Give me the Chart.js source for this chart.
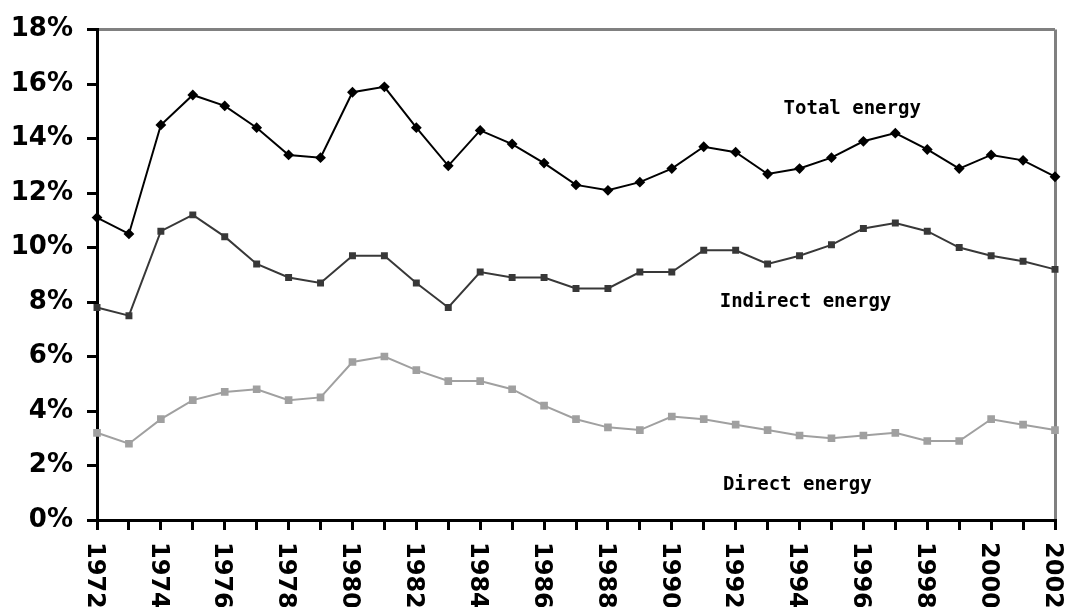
<!DOCTYPE html>
<html>
<head>
<meta charset="utf-8">
<script src="https://cdn.jsdelivr.net/npm/chart.js@4/dist/chart.umd.min.js"></script>
<style>
  html, body { margin: 0; padding: 0; background: #fff; }
  #wrap { width: 1068px; height: 607px; }
</style>
</head>
<body>
<div id="wrap"><canvas id="energyChart" width="1068" height="607"></canvas></div>
<script>
// years on the x axis
const years = [];
for (let y = 1972; y <= 2002; y++) years.push(String(y));

// values (%)
const totalEnergy = [11.1, 10.5, 14.5, 15.6, 15.2, 14.4, 13.4, 13.3, 15.7, 15.9,
  14.4, 13.0, 14.3, 13.8, 13.1, 12.3, 12.1, 12.4, 12.9, 13.7,
  13.5, 12.7, 12.9, 13.3, 13.9, 14.2, 13.6, 12.9, 13.4, 13.2, 12.6];
const indirectEnergy = [7.8, 7.5, 10.6, 11.2, 10.4, 9.4, 8.9, 8.7, 9.7, 9.7,
  8.7, 7.8, 9.1, 8.9, 8.9, 8.5, 8.5, 9.1, 9.1, 9.9,
  9.9, 9.4, 9.7, 10.1, 10.7, 10.9, 10.6, 10.0, 9.7, 9.5, 9.2];
const directEnergy = [3.2, 2.8, 3.7, 4.4, 4.7, 4.8, 4.4, 4.5, 5.8, 6.0,
  5.5, 5.1, 5.1, 4.8, 4.2, 3.7, 3.4, 3.3, 3.8, 3.7,
  3.5, 3.3, 3.1, 3.0, 3.1, 3.2, 2.9, 2.9, 3.7, 3.5, 3.3];

// y axis ticks
const yTicks = [0, 2, 4, 6, 8, 10, 12, 14, 16, 18];

// series labels written in the plot: text, x (year index), y (%)
const noteText = ["Total energy", "Indirect energy", "Direct energy"];
const noteX = [21.5, 19.5, 19.6];
const noteY = [15.1, 8.0, 1.3];

// rotated year labels (clockwise, reading downward) + series notes
const textPlugin = {
  id: "textPlugin",
  afterDraw(chart) {
    const ctx = chart.ctx;
    const xs = chart.scales.x;
    const ys = chart.scales.y;
    ctx.save();
    ctx.fillStyle = "#000";
    ctx.font = "bold 24px 'DejaVu Sans'";
    ctx.textAlign = "left";
    ctx.textBaseline = "middle";
    years.forEach((yr, i) => {
      if (Number(yr) % 2 !== 0) return;
      const px = xs.getPixelForTick(i);
      ctx.save();
      ctx.translate(px - 3, xs.top + 22);
      ctx.rotate(Math.PI / 2);
      ctx.fillText(yr, 0, 0);
      ctx.restore();
    });
    ctx.font = "bold 19px 'DejaVu Sans Mono'";
    noteText.forEach((t, i) => {
      ctx.fillText(t, xs.getPixelForValue(noteX[i]), ys.getPixelForValue(noteY[i]));
    });
    ctx.restore();
  }
};

const ctx = document.getElementById("energyChart").getContext("2d");
new Chart(ctx, {
  type: "line",
  data: {
    labels: years,
    datasets: [
      {
        label: "Total energy",
        data: totalEnergy,
        borderColor: "#000",
        backgroundColor: "#000",
        borderWidth: 2,
        pointStyle: "rectRot",
        pointRadius: 4,
        tension: 0,
        clip: false
      },
      {
        label: "Indirect energy",
        data: indirectEnergy,
        borderColor: "#383838",
        backgroundColor: "#383838",
        borderWidth: 2,
        pointStyle: "rect",
        pointRadius: 3.5,
        tension: 0,
        clip: false
      },
      {
        label: "Direct energy",
        data: directEnergy,
        borderColor: "#a0a0a0",
        backgroundColor: "#a0a0a0",
        borderWidth: 2,
        pointStyle: "rect",
        pointRadius: 4,
        tension: 0,
        clip: false
      }
    ]
  },
  options: {
    responsive: false,
    animation: false,
    layout: { padding: { top: 23, right: 13, left: 0, bottom: 0 } },
    plugins: {
      legend: { display: false },
      tooltip: { enabled: false }
    },
    scales: {
      x: {
        offset: false,
        border: { display: true, color: "#000", width: 3 },
        grid: {
          color: (c) => (c.index === years.length - 1 ? "#808080" : "rgba(0,0,0,0)"),
          tickColor: "#000",
          lineWidth: 3,
          tickLength: 10,
          drawTicks: true
        },
        ticks: { display: false },
        afterFit: (scale) => { scale.height = 87; }
      },
      y: {
        min: 0,
        max: 18,
        afterBuildTicks: (scale) => { scale.ticks = yTicks.map(v => ({ value: v })); },
        border: { display: true, color: "#000", width: 3 },
        grid: {
          color: (c) => (c.tick && c.tick.value === 18 ? "#808080" : "rgba(0,0,0,0)"),
          tickColor: "#000",
          lineWidth: 3,
          tickLength: 10
        },
        ticks: {
          color: "#000",
          padding: 14,
          font: { family: "'DejaVu Sans'", size: 26, weight: "bold" },
          callback: (v) => v + "%"
        },
        afterFit: (scale) => { scale.width = 97; }
      }
    }
  },
  plugins: [textPlugin]
});
</script>
</body>
</html>
